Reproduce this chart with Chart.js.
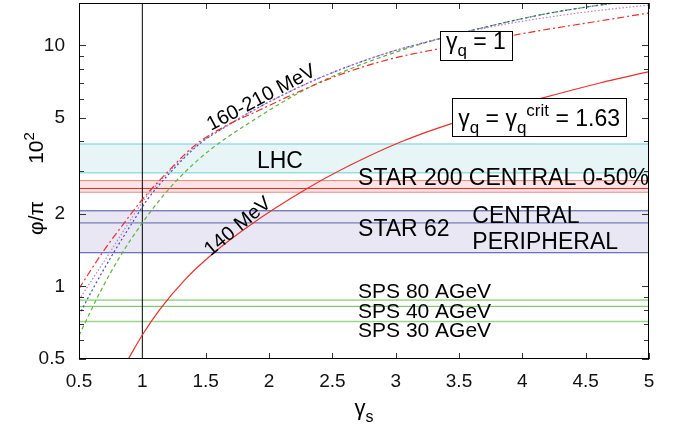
<!DOCTYPE html>
<html>
<head>
<meta charset="utf-8">
<script src="https://cdn.jsdelivr.net/npm/chart.js@4.4.1/dist/chart.umd.min.js"></script>
<style>
  html, body { margin: 0; padding: 0; background: #fff; }
</style>
</head>
<body>
<canvas id="phiChart" width="680" height="426"></canvas>
<script>
// axes
const xTicks = [0.5, 1, 1.5, 2, 2.5, 3, 3.5, 4, 4.5, 5];
const yTicks = [0.5, 1, 2, 5, 10];
const yMinor = [0.6, 0.7, 0.8, 0.9, 3, 4, 6, 7, 8, 9];

// gamma_q = gamma_q^crit = 1.63, T = 140 MeV
const critX = [0.889, 1.0, 1.14, 1.337, 1.56, 1.85, 2.298, 2.639, 3.034, 3.453, 4.14, 4.613, 5.0];
const critY = [0.5, 0.629, 0.805, 1.068, 1.374, 1.796, 2.542, 3.181, 3.966, 4.763, 6.016, 6.987, 7.784];

// gamma_q = 1, 160-210 MeV
const redX = [0.5, 0.684, 0.871, 1.0, 1.192, 1.424, 1.653, 1.913, 2.245, 2.56, 2.955, 3.35, 3.745, 4.139, 4.534, 5.0];
const redY = [0.98, 1.38, 1.876, 2.295, 2.96, 3.887, 4.618, 5.357, 6.46, 7.56, 8.773, 9.703, 10.58, 11.53, 12.45, 13.64];
const magX = [0.5, 0.742, 0.892, 1.015, 1.203, 1.439, 1.668, 1.913, 2.245, 2.56, 2.955, 3.35, 3.745, 4.139, 4.534, 5.0];
const magY = [0.88, 1.38, 1.835, 2.295, 2.96, 3.887, 4.641, 5.513, 6.743, 7.935, 9.384, 10.68, 11.92, 12.94, 13.83, 14.72];
const blueX = [0.5, 0.62, 0.773, 0.92, 1.04, 1.218, 1.447, 1.676, 1.913, 2.245, 2.56, 2.955, 3.35, 3.745, 4.139, 4.534, 4.85];
const blueY = [0.76, 1.0, 1.38, 1.835, 2.295, 2.96, 3.887, 4.663, 5.513, 6.743, 7.935, 9.384, 10.68, 12.04, 13.38, 14.51, 15.3];
const greenX = [0.5, 0.666, 0.824, 1.0, 1.14, 1.297, 1.534, 1.913, 2.245, 2.56, 2.955, 3.35, 3.745, 4.139, 4.534, 4.85];
const greenY = [0.626, 0.946, 1.332, 1.835, 2.295, 2.844, 3.684, 5.03, 6.397, 7.674, 9.206, 10.68, 12.04, 13.38, 14.51, 15.3];

// experimental bands
const bandEdges = [0.5, 5];
const lhcBand = [2.96, 3.9];
const star200Band = [2.46, 2.55, 2.75];
const star62Band = [1.38, 1.835, 2.06];
const spsLines = [0.878, 0.827, 0.715]; // 80, 40, 30 AGeV
const refGammaS = 1;

const pts = (xs, ys) => xs.map((x, i) => ({x: x, y: ys[i]}));
const hline = v => bandEdges.map(x => ({x: x, y: v}));

function curve(data, color, dash) {
  return {data: data, borderColor: color, borderWidth: 1.2, borderDash: dash,
    pointRadius: 0, fill: false, cubicInterpolationMode: 'monotone', order: 0};
}
function level(v, color, fill, bg, w) {
  // filled levels go underneath the plain ones
  return {data: hline(v), borderColor: color, borderWidth: w || 1, pointRadius: 0,
    fill: fill, backgroundColor: bg, order: fill ? 6 : 5};
}

const datasets = [
  curve(pts(critX, critY), '#e8302c', []),
  curve(pts(redX, redY), '#e8302c', [7, 3, 2, 3]),
  curve(pts(magX, magY), '#c878c8', [1.5, 2]),
  curve(pts(blueX, blueY), '#3a4fb0', [2, 2.5]),
  curve(pts(greenX, greenY), '#5ab43c', [4, 3]),
  {data: [{x: refGammaS, y: 0.5}, {x: refGammaS, y: 15}], borderColor: '#000', borderWidth: 1,
    pointRadius: 0, fill: false, order: 2},
  // LHC
  level(lhcBand[1], '#6fcbdc', '+1', '#e8f5f7'),
  level(lhcBand[0], '#6fcbdc', false),
  // STAR 200
  level(star200Band[2], '#ef8484', '+2', '#fce4e4'),
  level(star200Band[1], '#e02a2a', false),
  level(star200Band[0], '#ef8484', false),
  // STAR 62
  level(star62Band[2], '#44529e', '+2', '#e8e7f3'),
  level(star62Band[1], '#5a66aa', false),
  level(star62Band[0], '#44529e', false),
  // SPS
  level(spsLines[0], '#62c04a', false),
  level(spsLines[1], '#62c04a', false),
  level(spsLines[2], '#9ad58a', false, undefined, 1.6)
];

const FONT = '"Liberation Sans", Arial, Helvetica, sans-serif';

function drawRich(ctx, segs, x, y, size, align) {
  const fontOf = k => (k ? Math.round(size * 0.72) : size) + 'px ' + FONT;
  const widths = segs.map(s => { ctx.font = fontOf(s[1]); return ctx.measureText(s[0]).width; });
  const total = widths.reduce((a, b) => a + b, 0);
  let cx = align === 'center' ? x - total / 2 : x;
  ctx.textAlign = 'left';
  ctx.textBaseline = 'alphabetic';
  segs.forEach((s, i) => {
    ctx.font = fontOf(s[1]);
    const dy = s[1] === 'sub' ? size * 0.3 : s[1] === 'sup' ? -size * 0.42 : 0;
    ctx.fillText(s[0], cx, y + dy);
    cx += widths[i];
  });
  return total;
}

// labels anchored in data coordinates
const textLabels = [
  ['LHC', 1.905, 3.31, 23],
  ['STAR 200 CENTRAL 0-50%', 2.703, 2.81, 23],
  ['STAR 62', 2.703, 1.716, 23],
  ['CENTRAL', 3.605, 1.955, 23],
  ['PERIPHERAL', 3.605, 1.515, 23],
  ['SPS 80 AGeV', 2.703, 0.948, 21],
  ['SPS 40 AGeV', 2.703, 0.781, 21],
  ['SPS 30 AGeV', 2.703, 0.653, 21]
];
const rotLabels = [
  ['160-210 MeV', 1.941, 6.05, -28, 20],
  ['140 MeV', 1.755, 1.771, -40, 20]
];

const overlay = {
  id: 'overlay',
  afterDatasetsDraw(chart) {
    const {ctx, chartArea: a, scales: {x, y}} = chart;
    ctx.save();

    // ticks, inward on all sides
    ctx.strokeStyle = '#333';
    ctx.lineWidth = 1;
    ctx.beginPath();
    xTicks.forEach(v => {
      const px = Math.round(x.getPixelForValue(v)) + 0.5;
      ctx.moveTo(px, a.bottom); ctx.lineTo(px, a.bottom - 6);
      ctx.moveTo(px, a.top); ctx.lineTo(px, a.top + 6);
    });
    const yTick = (v, len) => {
      const py = Math.round(y.getPixelForValue(v)) + 0.5;
      ctx.moveTo(a.left, py); ctx.lineTo(a.left + len, py);
      ctx.moveTo(a.right, py); ctx.lineTo(a.right - len, py);
    };
    yTicks.forEach(v => yTick(v, 7));
    yMinor.forEach(v => yTick(v, 5));
    ctx.stroke();

    // frame
    ctx.strokeStyle = '#000';
    ctx.strokeRect(a.left + 0.5, a.top + 0.5, a.right - a.left - 1, a.bottom - a.top - 1);

    // band labels
    ctx.fillStyle = '#000';
    textLabels.forEach(([t, vx, vy, size]) => {
      ctx.font = size + 'px ' + FONT;
      ctx.textAlign = 'left';
      ctx.textBaseline = 'middle';
      ctx.fillText(t, x.getPixelForValue(vx), y.getPixelForValue(vy));
    });
    rotLabels.forEach(([t, vx, vy, ang, size]) => {
      ctx.save();
      ctx.translate(x.getPixelForValue(vx), y.getPixelForValue(vy));
      ctx.rotate(ang * Math.PI / 180);
      ctx.font = size + 'px ' + FONT;
      ctx.textAlign = 'center';
      ctx.textBaseline = 'middle';
      ctx.fillText(t, 0, 0);
      ctx.restore();
    });

    // boxed keys
    const boxes = [
      {segs: [['\u03b3', ''], ['q', 'sub'], [' = 1', '']], vx: 3.397, vy: 9.66, up: 18.3, down: 10.7},
      {segs: [['\u03b3', ''], ['q', 'sub'], [' = \u03b3', ''], ['q', 'sub'], ['crit', 'sup'], [' = 1.63', '']],
        vx: 3.494, vy: 4.63, up: 27.7, down: 10}
    ];
    const off = document.createElement('canvas').getContext('2d');
    boxes.forEach(b => {
      const bx = x.getPixelForValue(b.vx), by = y.getPixelForValue(b.vy);
      const w = drawRich(off, b.segs, 0, 0, 23, 'left');
      const l = Math.round(bx - 6) + 0.5, t = Math.round(by - b.up) + 0.5;
      const r = Math.round(bx + w + 6) + 0.5, btm = Math.round(by + b.down) + 0.5;
      ctx.fillStyle = '#fff';
      ctx.fillRect(l, t, r - l, btm - t);
      ctx.strokeStyle = '#000';
      ctx.strokeRect(l, t, r - l, btm - t);
      ctx.fillStyle = '#000';
      drawRich(ctx, b.segs, bx, by, 23, 'left');
    });

    // axis titles
    drawRich(ctx, [['\u03b3', ''], ['s', 'sub']], (a.left + a.right) / 2, 415, 22, 'center');
    const mid = (a.top + a.bottom) / 2;
    ctx.save();
    ctx.translate(43, mid + 37);
    ctx.rotate(-Math.PI / 2);
    drawRich(ctx, [['\u03c6/\u03c0', '']], 0, 0, 21, 'center');
    ctx.restore();
    ctx.save();
    ctx.translate(43, mid - 33);
    ctx.rotate(-Math.PI / 2);
    drawRich(ctx, [['10', ''], ['2', 'sup']], 0, 0, 21, 'center');
    ctx.restore();

    ctx.restore();
  }
};

new Chart(document.getElementById('phiChart').getContext('2d'), {
  type: 'line',
  data: {datasets: datasets},
  options: {
    responsive: false,
    animation: false,
    parsing: false,
    layout: {autoPadding: false, padding: {left: 0, right: 31, top: 3, bottom: 0}},
    plugins: {legend: {display: false}, tooltip: {enabled: false}},
    scales: {
      x: {
        type: 'linear', min: 0.5, max: 5,
        grid: {display: false, drawTicks: false},
        border: {display: false},
        ticks: {stepSize: 0.5, padding: 11, color: '#111', font: {size: 19, family: FONT},
          callback: v => String(v)},
        afterFit: s => { s.height = 67; s.paddingLeft = 0; s.paddingRight = 0; }
      },
      y: {
        type: 'logarithmic', min: 0.5, max: 15,
        grid: {display: false, drawTicks: false},
        border: {display: false},
        ticks: {padding: 14, color: '#111', autoSkip: false, font: {size: 19, family: FONT},
          callback: v => String(v)},
        afterBuildTicks: s => { s.ticks = yTicks.map(v => ({value: v})); },
        afterFit: s => { s.width = 79; s.paddingTop = 0; s.paddingBottom = 0; }
      }
    }
  },
  plugins: [overlay]
});
</script>
</body>
</html>
